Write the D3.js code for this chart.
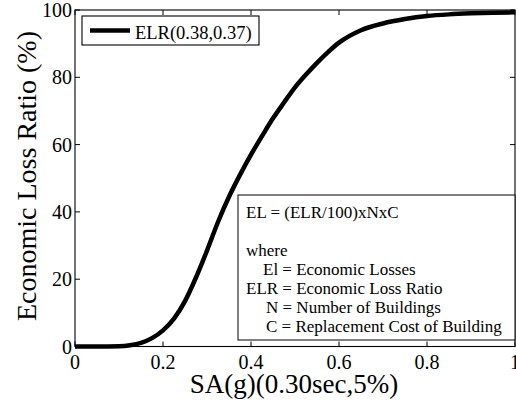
<!DOCTYPE html>
<html>
<head>
<meta charset="utf-8">
<script src="https://cdn.jsdelivr.net/npm/d3@7"></script>
<style>
  body { margin: 0; background: #fff; }
  svg { display: block; }
</style>
</head>
<body>
<svg id="chart"></svg>
<script>
// curve
var saValues  = [0, 0.05, 0.1, 0.125, 0.15, 0.175, 0.2, 0.225, 0.25, 0.275, 0.3, 0.325, 0.35, 0.375, 0.4, 0.425, 0.45, 0.475, 0.5, 0.525, 0.55, 0.575, 0.6, 0.65, 0.7, 0.75, 0.8, 0.85, 0.9, 0.95, 1.0];
var elrValues = [0, 0, 0.1, 0.4, 1.1, 2.5, 4.8, 8.3, 13.5, 20.5, 28.5, 37, 44.5, 51, 57, 62.5, 67.8, 72.5, 77, 80.8, 84.3, 87.5, 90.3, 94, 96, 97.3, 98.2, 98.7, 99, 99.2, 99.3];
var xTicks = [0, 0.2, 0.4, 0.6, 0.8, 1];
var yTicks = [0, 20, 40, 60, 80, 100];
var legendLabel = "ELR(0.38,0.37)";
var noteLines = [
  ["EL = (ELR/100)xNxC", 0],
  ["", 0],
  ["where", 0],
  ["El = Economic Losses", 17],
  ["ELR = Economic Loss Ratio", 0],
  ["N = Number of Buildings", 20],
  ["C = Replacement Cost of Building", 20]
];

var FONT = "'Liberation Serif', 'Times New Roman', Times, serif";
var W = 516, H = 403;
var margin = {top: 10, right: 1, bottom: 56.5, left: 75},
    width = W - margin.left - margin.right,
    height = H - margin.top - margin.bottom;

var svg = d3.select("#chart").attr("width", W).attr("height", H)
  .style("font-family", FONT);
var g = svg.append("g").attr("transform", "translate(" + margin.left + "," + margin.top + ")");

var x = d3.scaleLinear().domain([0, 1]).range([0, width]);
var y = d3.scaleLinear().domain([0, 100]).range([height, 0]);

// frame
g.append("rect").attr("x", 0).attr("y", 0).attr("width", width).attr("height", height)
  .attr("fill", "none").attr("stroke", "#000").attr("stroke-width", 1.1);

// inward ticks, all sides
var tl = 5;
g.selectAll(".xtb").data(xTicks).enter().append("line")
  .attr("x1", function(d) { return x(d); }).attr("x2", function(d) { return x(d); })
  .attr("y1", height).attr("y2", height - tl).attr("stroke", "#000");
g.selectAll(".xtt").data(xTicks).enter().append("line")
  .attr("x1", function(d) { return x(d); }).attr("x2", function(d) { return x(d); })
  .attr("y1", 0).attr("y2", tl).attr("stroke", "#000");
g.selectAll(".ytl").data(yTicks).enter().append("line")
  .attr("x1", 0).attr("x2", tl)
  .attr("y1", function(d) { return y(d); }).attr("y2", function(d) { return y(d); }).attr("stroke", "#000");
g.selectAll(".ytr").data(yTicks).enter().append("line")
  .attr("x1", width).attr("x2", width - tl)
  .attr("y1", function(d) { return y(d); }).attr("y2", function(d) { return y(d); }).attr("stroke", "#000");

// tick labels
g.selectAll(".xl").data(xTicks).enter().append("text")
  .attr("x", function(d) { return x(d); }).attr("y", height + 22)
  .attr("text-anchor", "middle").style("font-size", "20px")
  .text(function(d) { return d3.format("")(d); });
g.selectAll(".yl").data(yTicks).enter().append("text")
  .attr("x", -3).attr("y", function(d) { return y(d); }).attr("dy", "0.35em")
  .attr("text-anchor", "end").style("font-size", "20px")
  .text(function(d) { return d; });

// axis titles
svg.append("text").attr("x", 294).attr("y", 393)
  .attr("text-anchor", "middle").style("font-size", "27px").text("SA(g)(0.30sec,5%)");
svg.append("text").attr("transform", "translate(36,176) rotate(-90)")
  .attr("text-anchor", "middle").style("font-size", "28px").text("Economic Loss Ratio (%)");

// curve
var line = d3.line()
  .x(function(d, i) { return x(saValues[i]); })
  .y(function(d) { return y(d); })
  .curve(d3.curveMonotoneX);
g.append("path").datum(elrValues).attr("d", line)
  .attr("fill", "none").attr("stroke", "#000").attr("stroke-width", 4.5)
  .attr("stroke-linejoin", "round");

// legend
var lg = svg.append("g");
lg.append("rect").attr("x", 82).attr("y", 16).attr("width", 177).attr("height", 29)
  .attr("fill", "#fff").attr("stroke", "#000").attr("stroke-width", 1.1);
lg.append("line").attr("x1", 90).attr("x2", 130).attr("y1", 30.5).attr("y2", 30.5)
  .attr("stroke", "#000").attr("stroke-width", 4.5);
lg.append("text").attr("x", 135).attr("y", 39).style("font-size", "18.5px").text(legendLabel);

// note box
var nb = svg.append("g");
nb.append("rect").attr("x", 238).attr("y", 195).attr("width", 277).attr("height", 145)
  .attr("fill", "#fff").attr("stroke", "#000").attr("stroke-width", 1);
nb.selectAll("text").data(noteLines).enter().append("text")
  .attr("x", function(d) { return 246 + d[1]; })
  .attr("y", function(d, i) { return 218 + i * 19; })
  .style("font-size", "17px")
  .text(function(d) { return d[0]; });
</script>
</body>
</html>
